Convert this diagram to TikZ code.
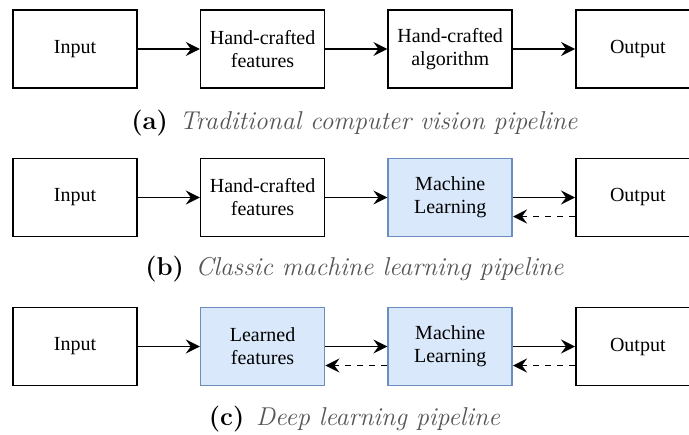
\documentclass[tikz,border=0pt]{standalone}
\usepackage{fontspec}
\newfontfamily\boxfont{Liberation Serif}
\usepackage{xcolor}
\usepackage{tikz}
\usetikzlibrary{arrows.meta, positioning}

\definecolor{mlfill}{HTML}{DAE8FC}
\definecolor{mldraw}{HTML}{6C8EBF}
\definecolor{capgray}{HTML}{555555}

\tikzset{
  stage/.style={draw, line width=0.8pt, minimum width=62pt, minimum height=39pt,
    align=center, font=\boxfont\fontsize{10}{11.5}\selectfont, inner sep=2pt},
  learnt/.style={stage, draw=mldraw, fill=mlfill},
  flow/.style={->, line width=0.8pt},
  back/.style={->, line width=0.8pt, dashed},
  caption/.style={font=\fontsize{12.9}{15}\selectfont}
}

\begin{document}
\begin{tikzpicture}[x=0.5pt, y=-0.5pt, >={Stealth[length=7pt, width=7pt, inset=2.5pt]}]
  \clip (0,0) rectangle (689,434);
  \useasboundingbox (0,0) rectangle (689,434);
  % (a) traditional pipeline
  \node[stage] (inA) at (75,49) {Input};
  \node[stage, right=31pt of inA] (featA) {Hand-crafted\\features};
  \node[stage, right=31pt of featA] (algoA) {Hand-crafted\\algorithm};
  \node[stage, right=31pt of algoA] (outA) {Output};
  \draw[flow] (inA) -- (featA);
  \draw[flow] (featA) -- (algoA);
  \draw[flow] (algoA) -- (outA);
  \node[caption] (capA) at (354.5,123)
    {\textbf{(a)}\hspace{0.45em}\textcolor{capgray}{\textit{Traditional computer vision pipeline}}};
  % (b) classic machine learning
  \node[stage] (inB) at (75,197.5) {Input};
  \node[stage, right=31pt of inB] (featB) {Hand-crafted\\features};
  \node[learnt, right=31pt of featB] (mlB) {Machine\\Learning};
  \node[stage, right=31pt of mlB] (outB) {Output};
  \draw[flow] (inB) -- (featB);
  \draw[flow] (featB) -- (mlB);
  \draw[flow] (mlB) -- (outB);
  \draw[back] ([yshift=-9.5pt]outB.west) -- ([yshift=-9.5pt]mlB.east);
  \node[caption] (capB) at (354.5,269)
    {\textbf{(b)}\hspace{0.45em}\textcolor{capgray}{\textit{Classic machine learning pipeline}}};
  % (c) deep learning
  \node[stage] (inC) at (75,346.5) {Input};
  \node[learnt, right=31pt of inC] (featC) {Learned\\features};
  \node[learnt, right=31pt of featC] (mlC) {Machine\\Learning};
  \node[stage, right=31pt of mlC] (outC) {Output};
  \draw[flow] (inC) -- (featC);
  \draw[flow] (featC) -- (mlC);
  \draw[flow] (mlC) -- (outC);
  \draw[back] ([yshift=-9.5pt]mlC.west) -- ([yshift=-9.5pt]featC.east);
  \draw[back] ([yshift=-9.5pt]outC.west) -- ([yshift=-9.5pt]mlC.east);
  \node[caption] (capC) at (354.5,419)
    {\textbf{(c)}\hspace{0.45em}\textcolor{capgray}{\textit{Deep learning pipeline}}};
\end{tikzpicture}
\end{document}
